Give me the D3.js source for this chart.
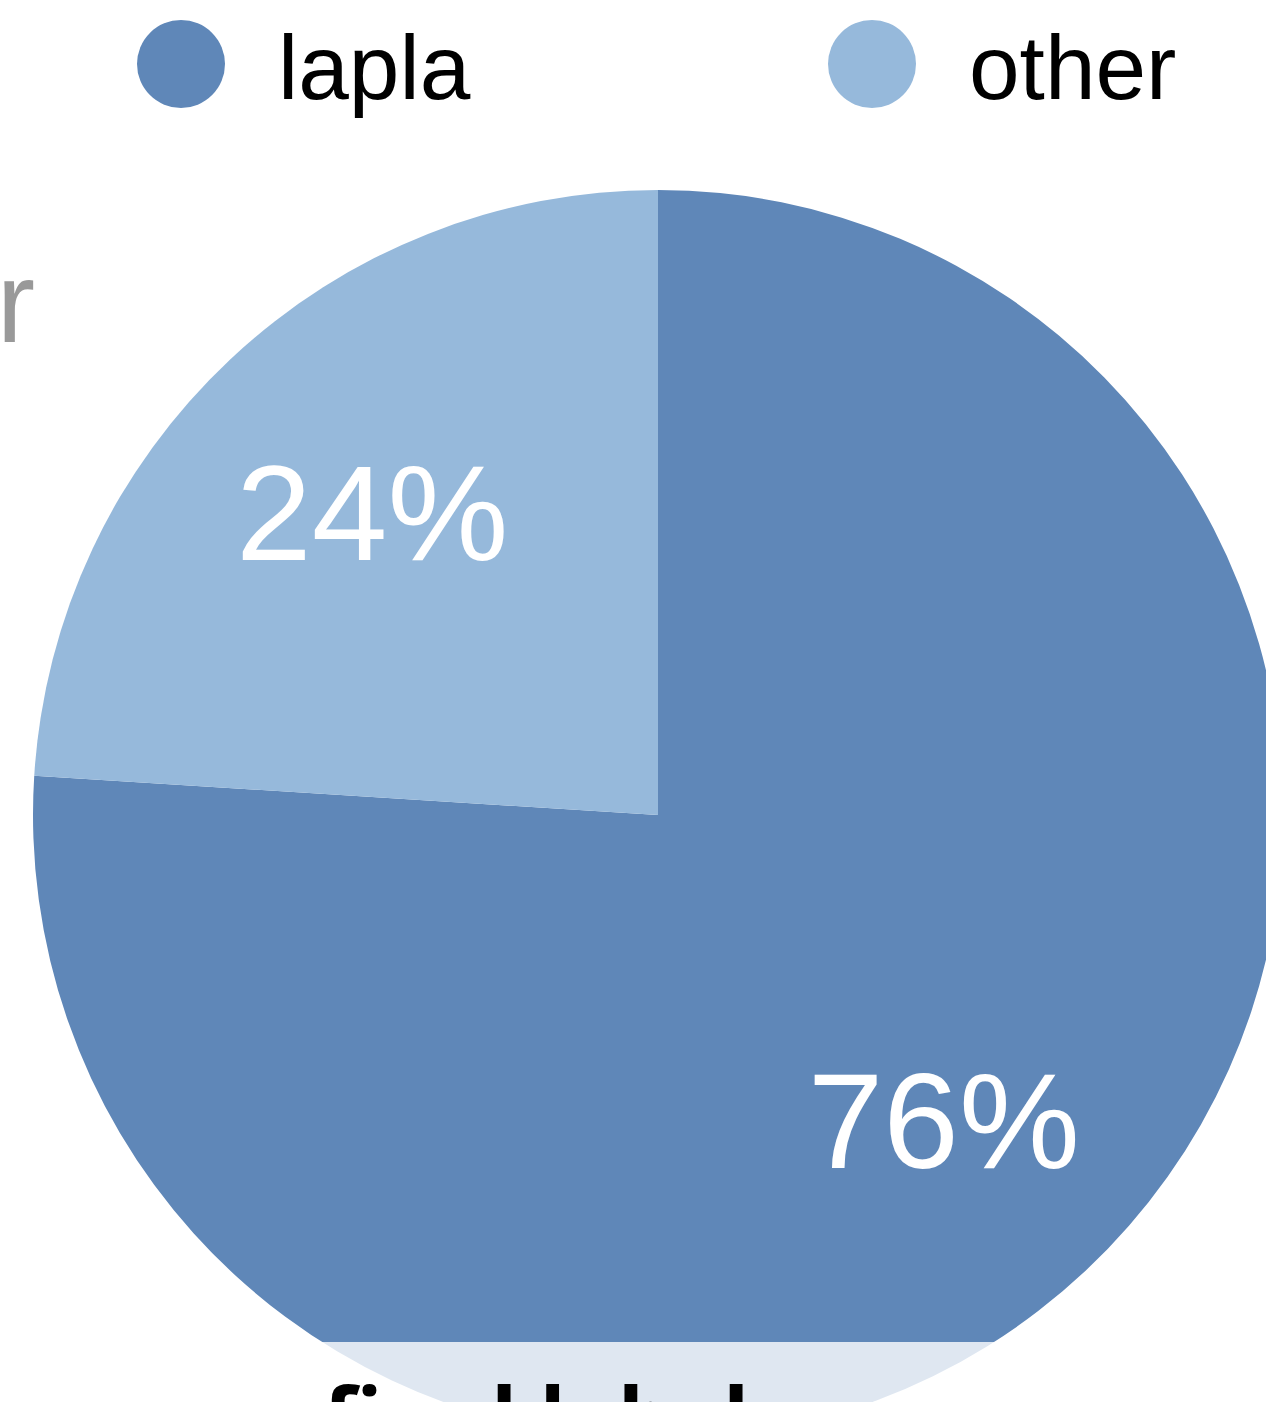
<!DOCTYPE html>
<html>
<head>
<meta charset="utf-8">
<script src="https://cdn.jsdelivr.net/npm/d3@7"></script>
<style>
  html, body { margin: 0; padding: 0; background: #fff; overflow: hidden; }
  svg { display: block; }
</style>
</head>
<body>
<svg id="chart" width="1266" height="1402"></svg>
<script>
// Share of items by category
const categories = ["lapla", "other"];
const shares = [76, 24];
const colors = ["#5f87b8", "#96b9db"];
const labelSuffix = "%";
const captionText = "final label usage";
const sideText = "user";

const width = 1266, height = 1402;
const cx = 658, cy = 815, radius = 625;

const svg = d3.select("#chart");

const data = categories.map((c, i) => ({ category: c, value: shares[i] }));

const color = d3.scaleOrdinal().domain(categories).range(colors);

const pie = d3.pie().sort(null).value(d => d.value);
const arc = d3.arc().innerRadius(0).outerRadius(radius);
const labelArc = d3.arc().innerRadius(radius * 0.668).outerRadius(radius * 0.668);

const arcs = pie(data);

// side label, partly outside the view
svg.append("text")
  .attr("x", 35).attr("y", 342)
  .attr("text-anchor", "end")
  .attr("font-family", "'Liberation Sans', Arial, sans-serif")
  .attr("font-size", 115)
  .attr("fill", "#999999")
  .text(sideText);

const g = svg.append("g").attr("transform", `translate(${cx},${cy})`);

g.selectAll("path.slice")
  .data(arcs)
  .join("path")
  .attr("class", "slice")
  .attr("d", arc)
  .attr("fill", d => color(d.data.category));

g.selectAll("text.pct")
  .data(arcs)
  .join("text")
  .attr("class", "pct")
  .attr("transform", d => `translate(${labelArc.centroid(d)})`)
  .attr("text-anchor", "middle")
  .attr("dy", "0.36em")
  .attr("font-family", "'Liberation Sans', Arial, sans-serif")
  .attr("font-size", 136)
  .attr("fill", "#ffffff")
  .text(d => d.data.value + labelSuffix);

// caption band with translucent backing
svg.append("rect")
  .attr("x", 0).attr("y", 1342)
  .attr("width", width).attr("height", height - 1342)
  .attr("fill", "#ffffff")
  .attr("fill-opacity", 0.8);

svg.append("text")
  .attr("x", 323).attr("y", 1450)
  .attr("font-family", "'Open Sans', 'Noto Sans', sans-serif")
  .attr("font-weight", 700)
  .attr("font-size", 86)
  .attr("fill", "#000000")
  .text(captionText);

// legend
const legend = svg.append("g");
const legendX = [181, 872];
const items = legend.selectAll("g.item")
  .data(categories)
  .join("g")
  .attr("class", "item")
  .attr("transform", (d, i) => `translate(${legendX[i]},64)`);

items.append("circle")
  .attr("r", 44)
  .attr("fill", d => color(d));

items.append("text")
  .attr("x", 97)
  .attr("y", 35)
  .attr("font-family", "'Liberation Sans', Arial, sans-serif")
  .attr("font-size", 91)
  .attr("fill", "#000000")
  .text(d => d);
</script>
</body>
</html>
